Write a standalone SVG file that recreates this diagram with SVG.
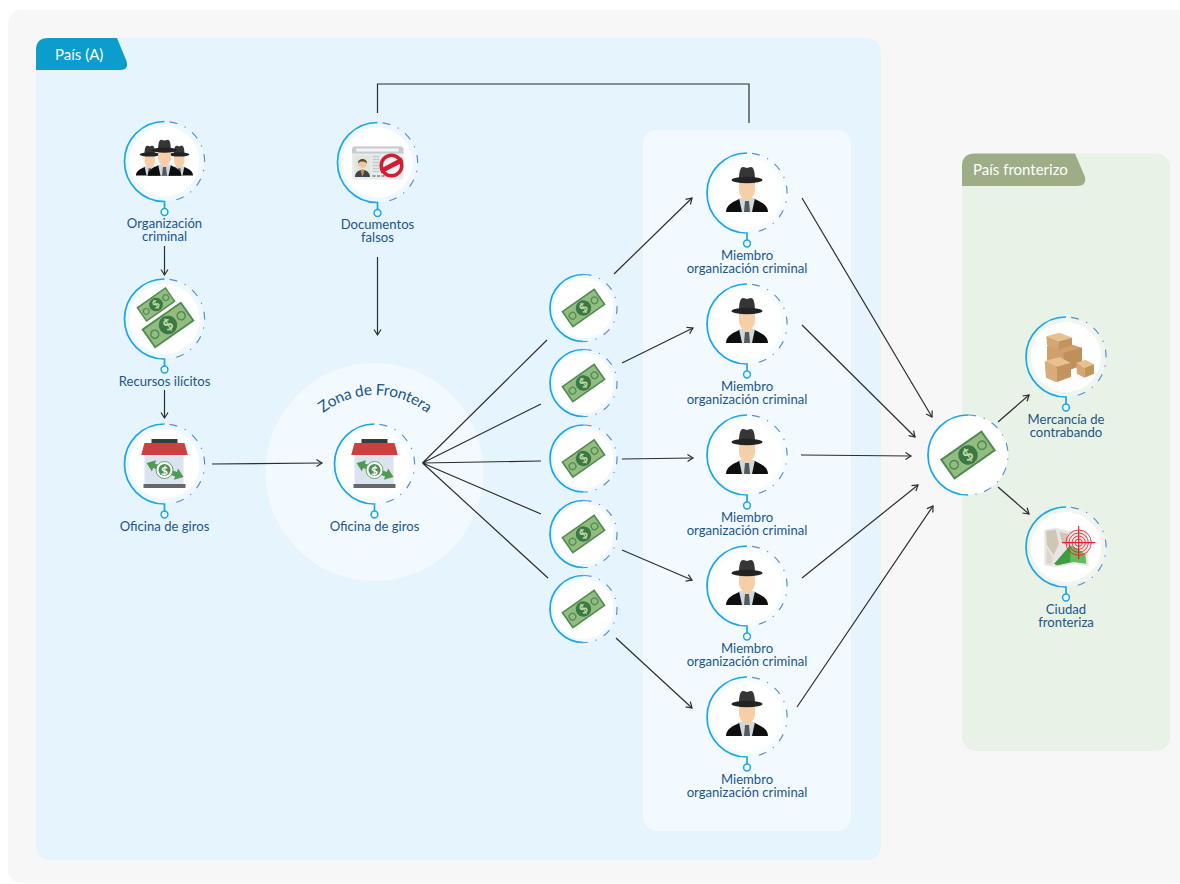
<svg xmlns="http://www.w3.org/2000/svg" xmlns:xlink="http://www.w3.org/1999/xlink" width="1180" height="884" viewBox="0 0 1180 884">
<style>
text{font-family:"Lato","Carlito","Liberation Sans",sans-serif}
.lbl{font-size:13.1px;fill:#1a5688;text-anchor:middle}
.tab{font-size:15px;fill:#fff}
.cn{fill:none;stroke:#2d2d2d;stroke-width:1.2}
.ar{marker-end:url(#arrow)}
.solid{fill:none;stroke:#1ba6e8;stroke-width:1.7}
.dash{fill:none;stroke:#5b8fd2;stroke-width:1.2;stroke-dasharray:8 8 1.2 8}
.pin{fill:#f4fbff;stroke:#1ba6e8;stroke-width:1.5}
</style>
<defs>
<marker id="arrow" markerUnits="userSpaceOnUse" markerWidth="12" markerHeight="12" refX="8" refY="6" orient="auto">
<path d="M2.500,2.500L8,6L2.500,9.500" fill="none" stroke="#2d2d2d" stroke-width="1.200"/>
</marker>
<g id="ring">
<circle r="40" fill="#fff" fill-opacity=".35"/>
<circle r="35" fill="#fff"/>
<path class="solid" d="M0,-40A40,40 0 0 0 0,40V47"/>
<path class="dash" d="M5,-39.700A40,40 0 0 1 5,39.700"/>
<circle class="pin" cy="50.500" r="3.400"/>
</g>
<g id="ringS">
<circle r="33.500" fill="#fff" fill-opacity=".35"/>
<circle r="30" fill="#fff"/>
<path class="solid" d="M0,-33.500A33.500,33.500 0 0 0 0,33.500"/>
<path class="dash" d="M0,-33.500A33.500,33.500 0 0 1 0,33.500"/>
</g>
<g id="ringB">
<circle r="40" fill="#fff"/>
<path class="solid" d="M0,-40A40,40 0 0 0 0,40"/>
<path class="dash" d="M0,-40A40,40 0 0 1 0,40"/>
</g>
<g id="bill" transform="rotate(-35)">
<rect x="-25.500" y="-12.500" width="51" height="25" fill="#4f8a50"/>
<rect x="-23.500" y="-10.500" width="47" height="21" fill="#93bd80"/>
<circle r="9.800" fill="#3b7843"/>
<circle cx="-17" r="5" fill="#4f8a50"/>
<circle cx="17" r="5" fill="#4f8a50"/>
<circle cx="-17" r="3.400" fill="#93bd80"/>
<circle cx="17" r="3.400" fill="#93bd80"/>
<text y="5.500" text-anchor="middle" font-size="16" font-weight="700" fill="#bcdca6">$</text>
</g>
<g id="man">
<path d="M-21,19C-21,12-14,9-8,6H8C14,9 21,12 21,19Z" fill="#0f0f0f"/>
<path d="M-8,5H8L5,19H-5Z" fill="#cfd8dc"/>
<path d="M-2,8H2L3,19H-3Z" fill="#565a5c"/>
<path d="M-8,-12H8V-3C8,3 3,7 0,8C-3,7-8,3-8,-3Z" fill="#f6cfa8"/>
<path d="M-8,-13C-8,-20-7,-26-4,-26C-2,-26-1,-25 0,-25C1,-25 2,-26 4,-26C7,-26 8,-20 8,-13Z" fill="#363636"/>
<ellipse cy="-13" rx="15.500" ry="3.200" fill="#232323"/>
</g>
<g id="house">
<path d="M-20,-9H19V20H-20Z" fill="#dbe4ee"/>
<path d="M-13,-25H13V-18H-13Z" fill="#3a3a40"/>
<path d="M-20,-21H20L23.300,-9H-23.300Z" fill="#cf3f3f"/>
<path d="M-21,20H21V24H-21Z" fill="#66686b"/>
<path d="M-18,-1L-8.400,-3.800L-9.600,-.5L12.400,7.900L13.600,4.600L19,13L9.400,15.800L10.600,12.500L-11.400,4.100L-12.600,7.400Z" fill="#4f9a55"/>
<circle cy="6" r="8.500" fill="#fff" stroke="#6aa26b" stroke-width="1"/>
<circle cy="6" r="6" fill="#4d8f52"/>
<text y="10.500" text-anchor="middle" font-size="12" font-weight="700" fill="#fff">$</text>
</g>
</defs>

<rect id="bg" x="8" y="10" width="1190" height="873" rx="13" fill="#f7f7f7"/>
<g id="pais-a">
<rect x="36" y="38" width="845" height="822" rx="14" fill="#e6f4fd"/>
<path d="M36,70V50Q36,38 48,38H117L126.500,61Q129,70 120,70Z" fill="#0b9dcc"/>
<text class="tab" x="55" y="60">País (A)</text>
</g>
<g id="pais-fronterizo">
<rect x="962" y="153.500" width="208" height="597.500" rx="14" fill="#e9f2e6"/>
<path d="M962,186V166Q962,153.500 975,153.500H1075L1085,177Q1087,186 1077,186Z" fill="#9dae86"/>
<text class="tab" x="973" y="174.500">País fronterizo</text>
</g>
<rect id="panel-miembros" x="643" y="130" width="208" height="701" rx="14" fill="#f3faff"/>
<g id="zona-frontera">
<circle cx="374.500" cy="472" r="109" fill="#f3faff"/>
<path id="zonaArc" d="M292,478A83,83 0 0 1 458,478" fill="none"/>
<text font-size="15.500" letter-spacing="-.3" fill="#1a5688" text-anchor="middle"><textPath href="#zonaArc" xlink:href="#zonaArc" startOffset="50%">Zona de Frontera</textPath></text>
</g>

<g id="connectors">
<path class="cn ar" d="M164.500,246V275"/>
<path class="cn ar" d="M164.500,390V418"/>
<path class="cn ar" d="M377.500,257V335"/>
<path class="cn ar" d="M212,464L322,463"/>
<path class="cn" d="M377.500,113V84H749V123"/>
<path class="cn" d="M422.500,463L547,340M422.500,463L541,404M422.500,463L541,461M422.500,463L541,514M422.500,463L548,578"/>
<path class="cn ar" d="M614,274L692,198"/>
<path class="cn ar" d="M622,363L693,328"/>
<path class="cn ar" d="M622,459L693,458"/>
<path class="cn ar" d="M622,550L692,580"/>
<path class="cn ar" d="M616,638L692,708"/>
<path class="cn ar" d="M802,198L932,417"/>
<path class="cn ar" d="M802,325L915,437"/>
<path class="cn ar" d="M801,455L911,456"/>
<path class="cn ar" d="M802,578L918,485"/>
<path class="cn ar" d="M797,707L933,506"/>
<path class="cn ar" d="M998,422L1029,395"/>
<path class="cn ar" d="M998,487L1029,514"/>
</g>

<g id="organizacion-criminal" transform="translate(164.500,161.500)">
<use href="#ring" xlink:href="#ring"/>
<use href="#man" xlink:href="#man" transform="translate(-14.700,1.500) scale(.66)"/>
<use href="#man" xlink:href="#man" transform="translate(14.700,1.500) scale(.66)"/>
<use href="#man" xlink:href="#man" transform="translate(0,-1) scale(.8)"/>
<text class="lbl" y="66.500"><tspan x="0">Organización</tspan><tspan x="0" dy="13">criminal</tspan></text>
</g>
<g id="recursos-ilicitos" transform="translate(164.500,319)">
<use href="#ring" xlink:href="#ring"/>
<use href="#bill" xlink:href="#bill" transform="translate(-8.500,-14.500) scale(.7)"/>
<use href="#bill" xlink:href="#bill" transform="translate(3.500,6) scale(.95)"/>
<text class="lbl" y="67">Recursos ilícitos</text>
</g>
<g id="oficina-giros-1" transform="translate(164.500,464)">
<use href="#ring" xlink:href="#ring"/><use href="#house" xlink:href="#house"/>
<text class="lbl" y="67">Oficina de giros</text>
</g>
<g id="documentos-falsos" transform="translate(377.500,162.500)">
<use href="#ring" xlink:href="#ring"/>
<rect x="-25.500" y="-16" width="51.500" height="33" rx="3" fill="#e9ecec"/>
<path d="M-25.500,-9V-13Q-25.500,-16 -22.500,-16H23Q26,-16 26,-13V-9Z" fill="#c6ccd0"/>
<rect x="-21" y="-14" width="42" height="3" fill="#f3f5f5"/>
<rect x="-23" y="-7" width="16" height="21.500" fill="#dfe8d8"/>
<path d="M-22.500,14.500C-22.500,9-18,8-15,7C-12,8-7.500,9-7.500,14.500Z" fill="#3c4450"/>
<path d="M-17,8L-15,7L-13,8L-15,14.500Z" fill="#d9863f"/>
<circle cx="-15" cy="1" r="4.500" fill="#efc6a2"/>
<path d="M-19.500,1C-20,-5-10,-5-10.500,1C-12,-1-17,-2-19.500,1Z" fill="#5b4a3c"/>
<path d="M-5,-6H2M-5,-3H2M-5,0H2M-5,3H2M-5,6H2M-5,9H2" stroke="#c4c9c9" stroke-width="1.300"/>
<path d="M-5,13.500H8" stroke="#9a9d9d" stroke-width="2" stroke-dasharray="3 1.500"/>
<circle cx="14" cy="3" r="10.300" fill="#f2f2f2" stroke="#cf1f35" stroke-width="3.500"/>
<path d="M2.500,6.500L24,-5L26,-0.500L4,11Z" fill="#cf1f35"/>
<text class="lbl" y="66.500"><tspan x="0">Documentos</tspan><tspan x="0" dy="13">falsos</tspan></text>
</g>
<g id="oficina-giros-2" transform="translate(374.500,464)">
<use href="#ring" xlink:href="#ring"/><use href="#house" xlink:href="#house"/>
<text class="lbl" y="67">Oficina de giros</text>
</g>

<g id="dinero-1" transform="translate(583.500,308)"><use href="#ringS" xlink:href="#ringS"/><use href="#bill" xlink:href="#bill" transform="scale(.79)"/></g>
<g id="dinero-2" transform="translate(583.500,383)"><use href="#ringS" xlink:href="#ringS"/><use href="#bill" xlink:href="#bill" transform="scale(.79)"/></g>
<g id="dinero-3" transform="translate(583.500,458.500)"><use href="#ringS" xlink:href="#ringS"/><use href="#bill" xlink:href="#bill" transform="scale(.79)"/></g>
<g id="dinero-4" transform="translate(583.500,534)"><use href="#ringS" xlink:href="#ringS"/><use href="#bill" xlink:href="#bill" transform="scale(.79)"/></g>
<g id="dinero-5" transform="translate(583.500,609)"><use href="#ringS" xlink:href="#ringS"/><use href="#bill" xlink:href="#bill" transform="scale(.79)"/></g>

<g id="miembro-1" transform="translate(747,193)"><use href="#ring" xlink:href="#ring"/><use href="#man" xlink:href="#man"/><text class="lbl" y="66.500"><tspan x="0">Miembro</tspan><tspan x="0" dy="13">organización criminal</tspan></text></g>
<g id="miembro-2" transform="translate(747,324)"><use href="#ring" xlink:href="#ring"/><use href="#man" xlink:href="#man"/><text class="lbl" y="66.500"><tspan x="0">Miembro</tspan><tspan x="0" dy="13">organización criminal</tspan></text></g>
<g id="miembro-3" transform="translate(747,455)"><use href="#ring" xlink:href="#ring"/><use href="#man" xlink:href="#man"/><text class="lbl" y="66.500"><tspan x="0">Miembro</tspan><tspan x="0" dy="13">organización criminal</tspan></text></g>
<g id="miembro-4" transform="translate(747,586)"><use href="#ring" xlink:href="#ring"/><use href="#man" xlink:href="#man"/><text class="lbl" y="66.500"><tspan x="0">Miembro</tspan><tspan x="0" dy="13">organización criminal</tspan></text></g>
<g id="miembro-5" transform="translate(747,717)"><use href="#ring" xlink:href="#ring"/><use href="#man" xlink:href="#man"/><text class="lbl" y="66.500"><tspan x="0">Miembro</tspan><tspan x="0" dy="13">organización criminal</tspan></text></g>

<g id="dinero-final" transform="translate(968,455)"><use href="#ringB" xlink:href="#ringB"/><use href="#bill" xlink:href="#bill"/></g>

<g id="mercancia" transform="translate(1066,357)">
<use href="#ring" xlink:href="#ring"/>
<g transform="scale(.3333) translate(-497,-170)">
<path d="M440,138L490,125L545,142V195L490,215L440,190Z" fill="#cf9f6c"/>
<path d="M490,157L545,142V195L490,215Z" fill="#c08f5c"/>
<path d="M438,108L478,97L515,112L475,123Z" fill="#e6c08e"/>
<path d="M438,108L475,123V148L440,135Z" fill="#d4a673"/>
<path d="M475,123L515,112V135L475,148Z" fill="#c4945f"/>
<path d="M433,182L478,170L512,188L468,200Z" fill="#e6c08e"/>
<path d="M433,182L468,200V246L437,232Z" fill="#d9ab78"/>
<path d="M468,200L512,188V230L468,246Z" fill="#c4945f"/>
<path d="M528,188L555,178L581,192L552,202Z" fill="#e6c08e"/>
<path d="M528,188L552,202V232L530,220Z" fill="#d4a673"/>
<path d="M552,202L581,192V220L552,232Z" fill="#c4945f"/>
</g>
<text class="lbl" y="66.500"><tspan x="0">Mercancía de</tspan><tspan x="0" dy="13">contrabando</tspan></text>
</g>
<g id="ciudad" transform="translate(1066,547)">
<use href="#ring" xlink:href="#ring"/>
<g transform="scale(.3333) translate(-497,-740)">
<path d="M432,688L468,682L505,692L560,690L565,797L520,790L470,800L432,795Z" fill="#e6e6e3"/>
<path d="M437,692L466,688L476,730L460,765L440,735Z" fill="#cfc7b6"/>
<path d="M478,695L503,700L505,740L484,725Z" fill="#cfc7b6"/>
<path d="M440,742L458,772L452,790L438,790Z" fill="#dcd6c9"/>
<path d="M462,790L510,735L555,760L558,790L520,785L470,795Z" fill="#66bb5e"/>
<path d="M462,790L510,735V786L470,795Z" fill="#3f9c41"/>
<g fill="none" stroke="#e0202c" stroke-width="2.500">
<circle cx="535" cy="727" r="38"/><circle cx="535" cy="727" r="29"/><circle cx="535" cy="727" r="20"/><circle cx="535" cy="727" r="11"/>
</g>
<path d="M535,677V777M485,727H585" stroke="#e0202c" stroke-width="3.500"/>
</g>
<text class="lbl" y="66.500"><tspan x="0">Ciudad</tspan><tspan x="0" dy="13">fronteriza</tspan></text>
</g>
</svg>
